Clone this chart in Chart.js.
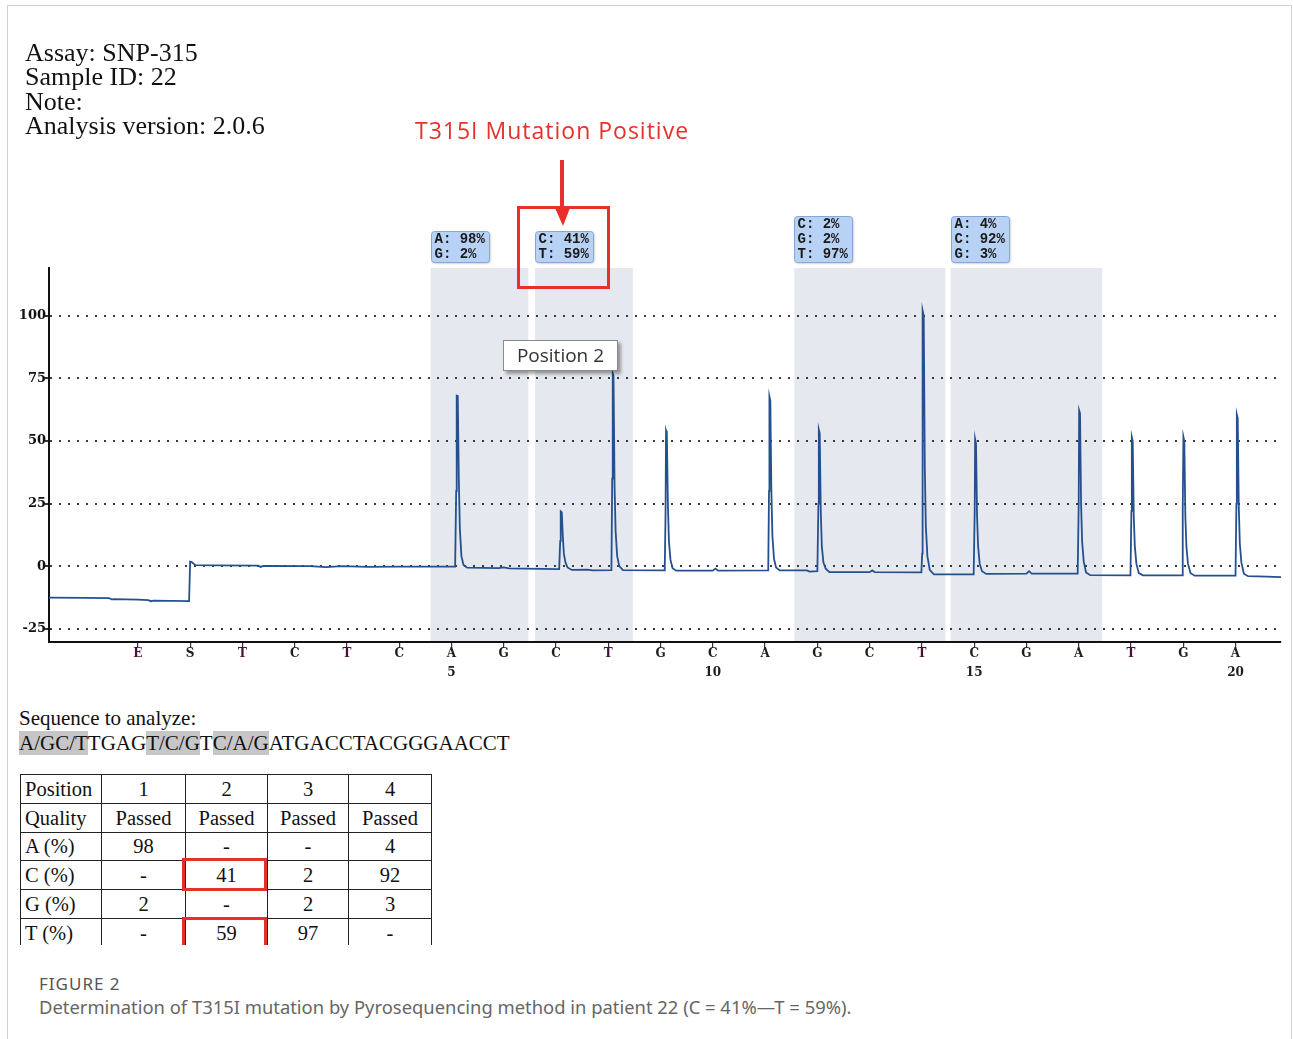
<!DOCTYPE html>
<html>
<head>
<meta charset="utf-8">
<script src="https://cdn.jsdelivr.net/npm/chart.js@4.4.1/dist/chart.umd.min.js"></script>
<style>
    body { margin: 0; width: 1293px; height: 1039px; background: #fff; position: relative; overflow: hidden; }
    #frame { position: absolute; left: 7px; top: 5px; width: 1283px; height: 1040px; border: 1px solid #cfcfcf; border-bottom: none; }
    #pyrogram { position: absolute; left: 0; top: 0; }
    .serif { font-family: 'Liberation Serif', 'Times New Roman', serif; color: #111; }
    #header { position: absolute; left: 25px; top: 41px; font-size: 26px; line-height: 24.4px; }
    #mutation { position: absolute; left: 415px; top: 114px; font: 23px 'Open Sans', sans-serif; letter-spacing: 1px; color: #e8302a; }
    #arrow { position: absolute; left: 540px; top: 150px; }
    #redbox { position: absolute; left: 517px; top: 206px; width: 87px; height: 77px; border: 3.5px solid #e8302a; }
    #poslabel { position: absolute; left: 503px; top: 340px; width: 113px; height: 29px; border: 1px solid #8a8a8a; background: #fff;
        box-shadow: 3px 3px 3px rgba(0,0,0,0.35); font: 19px 'Open Sans', sans-serif; color: #333; line-height: 29px; text-align: center; }
    #seq { position: absolute; left: 19px; top: 706px; font-size: 21px; line-height: 25px; }
    #seq .hl { background: #c6c6c6; }
    #tablewrap { position: absolute; left: 18px; top: 772px; width: 420px; height: 173px; overflow: hidden; }
    #results { position: absolute; left: 2px; top: 2px; border-collapse: collapse; table-layout: fixed; width: 411px; font-size: 20.5px; }
    #results td { border: 1.5px solid #222; height: 28.8px; padding: 0 4px; text-align: center; line-height: 26px; box-sizing: border-box; }
    #results td:first-child { text-align: left; }
    .redcell { position: absolute; border: 3.5px solid #e8302a; }
    #figlabel { position: absolute; left: 39px; top: 972px; font: 17px 'Noto Sans', sans-serif; letter-spacing: 1px; color: #555; }
    #figcaption { position: absolute; left: 39px; top: 994px; font: 18.4px 'Noto Sans', sans-serif; color: #666; }
</style>
</head>
<body>
<div id="frame"></div>
<canvas id="pyrogram" width="1293" height="700"></canvas>

<div id="header" class="serif">Assay: SNP-315<br>Sample ID: 22<br>Note:<br>Analysis version: 2.0.6</div>
<div id="mutation">T315I Mutation Positive</div>
<svg id="arrow" width="50" height="80">
    <line x1="22" y1="10" x2="22" y2="62" stroke="#e8302a" stroke-width="4"/>
    <polygon points="15,58 30,58 23,76" fill="#e8302a"/>
</svg>
<div id="redbox"></div>
<div id="poslabel">Position 2</div>

<div id="seq" class="serif">Sequence to analyze:<br><span class="hl">A/GC/T</span>TGAG<span class="hl">T/C/G</span>T<span class="hl">C/A/G</span>ATGACCTACGGGAACCT</div>

<div id="tablewrap" class="serif">
    <table id="results"><colgroup><col style="width:81px"><col style="width:84px"><col style="width:82px"><col style="width:81px"><col style="width:83px"></colgroup><tbody></tbody></table>
    <div class="redcell" style="left:164px; top:86px; width:79px; height:27px;"></div>
    <div class="redcell" style="left:164px; top:145px; width:79px; height:40px;"></div>
</div>

<div id="figlabel">FIGURE 2</div>
<div id="figcaption">Determination of T315I mutation by Pyrosequencing method in patient 22 (C = 41%—T = 59%).</div>

<script>
// dispensation order of the assay (E = enzyme, S = substrate)
const dispensations = ['E', 'S', 'T', 'C', 'T', 'C', 'A', 'G', 'C', 'T', 'G', 'C', 'A', 'G', 'C', 'T', 'C', 'G', 'A', 'T', 'G', 'A'];
const dispensationIndex = [-1, 0, 1, 2, 3, 4, 5, 6, 7, 8, 9, 10, 11, 12, 13, 14, 15, 16, 17, 18, 19, 20];
const numberedIndex = [5, 10, 15, 20];
const yTicks = [-25, 0, 25, 50, 75, 100];

// shaded variable positions (in dispensation units) and their allele readouts
const positionRegions = [[4.6, 6.47], [6.6, 8.47], [11.56, 14.45], [14.55, 17.45]];
const positionReadouts = [
    ['A: 98%', 'G: 2%'],
    ['C: 41%', 'T: 59%'],
    ['C: 2%', 'G: 2%', 'T: 97%'],
    ['A: 4%', 'C: 92%', 'G: 3%']
];

// pyrogram trace [dispensation, signal]
const tracePoints = [
    [-2.70, -12.6], [-2.0, -12.7], [-1.55, -12.8], [-1.50, -13.3], [-1.45, -13.2], [-1.0, -13.4], [-0.80, -13.6],
    [-0.75, -14.0], [-0.70, -13.8], [-0.02, -14.0], [0.00, 1.8], [0.03, 1.6], [0.10, 0.4], [0.5, 0.3], [1.3, 0.2],
    [1.35, -0.3], [1.4, 0.1], [2.3, 0.0], [2.6, -0.4], [2.9, 0.0], [3.4, -0.3], [4.0, -0.2], [5.07, -0.2],
    [5.09, 30], [5.10, 68.1], [5.12, 68.0], [5.14, 35], [5.16, 15], [5.19, 4], [5.23, 0.5], [5.30, -0.6],
    [5.9, -0.8], [6.0, -0.5], [6.1, -0.9], [7.05, -1.2],
    [7.06, -1.2], [7.08, 10], [7.09, 21.9], [7.11, 21.5], [7.13, 12], [7.15, 5], [7.18, 1.5], [7.22, -0.5], [7.30, -1.5],
    [7.6, -1.4], [7.7, -1.7], [8.05, -1.6],
    [8.06, -1.6], [8.075, 35], [8.085, 77.1], [8.10, 76], [8.12, 32], [8.14, 14], [8.17, 4], [8.21, 0], [8.28, -1.6],
    [9.07, -1.7],
    [9.08, -1.5], [9.095, 20], [9.105, 54.1], [9.12, 53], [9.14, 25], [9.16, 10], [9.19, 2.5], [9.23, -0.8], [9.30, -1.8],
    [10.0, -1.8], [10.05, -1.0], [10.1, -1.8], [11.05, -1.7],
    [11.06, -1.7], [11.075, 30], [11.083, 67.7], [11.10, 66], [11.12, 30], [11.14, 12], [11.17, 3], [11.21, -0.5], [11.28, -1.7],
    [11.8, -1.7], [11.85, -2.2], [12.0, -2.0],
    [12.005, -2.0], [12.02, 25], [12.028, 54.5], [12.045, 53], [12.065, 22], [12.085, 8], [12.115, 1.5], [12.16, -1.0], [12.23, -2.4],
    [13.0, -2.4], [13.05, -1.7], [13.1, -2.4], [13.99, -2.5],
    [13.995, -2.5], [14.005, 5], [14.01, 50], [14.017, 102.1], [14.035, 100], [14.055, 40], [14.075, 16], [14.105, 4], [14.15, -1.5],
    [14.23, -3.3], [14.5, -3.3], [14.99, -3.3],
    [14.995, -3.3], [15.01, 22], [15.018, 50.8], [15.035, 49], [15.055, 20], [15.075, 8], [15.105, 1], [15.15, -2], [15.23, -3.1],
    [16.0, -3.0], [16.05, -2.0], [16.1, -3.0], [16.98, -3.0],
    [16.985, -3.0], [17.0, 25], [17.008, 62.2], [17.025, 61], [17.045, 25], [17.065, 10], [17.095, 2], [17.14, -2.5], [17.22, -3.6],
    [17.99, -3.7],
    [17.995, -3.7], [18.008, 22], [18.016, 51.5], [18.033, 50], [18.053, 20], [18.073, 8], [18.103, 1], [18.15, -2.8], [18.23, -3.7],
    [18.98, -3.7],
    [18.985, -3.7], [18.995, 22], [19.003, 51.7], [19.02, 50], [19.04, 20], [19.06, 8], [19.09, 1], [19.14, -2.8], [19.22, -3.8],
    [20.0, -3.8],
    [20.002, -3.8], [20.017, 25], [20.025, 60.5], [20.042, 59], [20.062, 24], [20.082, 9], [20.112, 1.5], [20.16, -3.0], [20.24, -4.0],
    [20.6, -4.2], [20.87, -4.4]
];

// result table
const tablePositions = ['1', '2', '3', '4'];
const tableQuality = ['Passed', 'Passed', 'Passed', 'Passed'];
const pctA = ['98', '-', '-', '4'];
const pctC = ['-', '41', '2', '92'];
const pctG = ['2', '-', '2', '3'];
const pctT = ['-', '59', '97', '-'];

const tableRows = [
    ['Position', tablePositions], ['Quality', tableQuality],
    ['A (%)', pctA], ['C (%)', pctC], ['G (%)', pctG], ['T (%)', pctT]
];
document.querySelector('#results tbody').innerHTML = tableRows
    .map(([name, cells]) => `<tr><td>${name}</td>${cells.map(c => `<td>${c}</td>`).join('')}</tr>`)
    .join('');

const regionShading = {
    id: 'regionShading',
    beforeDraw(chart) {
        const { ctx, chartArea, scales: { x } } = chart;
        ctx.save();
        ctx.fillStyle = '#e5e8ee';
        positionRegions.forEach(([from, to]) => {
            const x1 = x.getPixelForValue(from);
            const x2 = x.getPixelForValue(to);
            ctx.fillRect(x1, chartArea.top, x2 - x1, chartArea.bottom - chartArea.top);
        });
        ctx.restore();
    }
};

const readoutBoxes = {
    id: 'readoutBoxes',
    afterDraw(chart) {
        const { ctx, chartArea, scales: { x } } = chart;
        ctx.save();
        positionReadouts.forEach((lines, i) => {
            const left = Math.round(x.getPixelForValue(positionRegions[i][0])) + 0.5;
            const h = lines.length * 15 + 1;
            const top = Math.round(chartArea.top - 6 - h) + 0.5;
            const w = 58;
            ctx.shadowColor = 'rgba(0,0,0,0.25)';
            ctx.shadowOffsetX = 1;
            ctx.shadowOffsetY = 1;
            ctx.shadowBlur = 2;
            ctx.beginPath();
            ctx.roundRect(left, top, w, h, 3);
            ctx.fillStyle = '#b8d2f6';
            ctx.fill();
            ctx.shadowColor = 'transparent';
            ctx.strokeStyle = '#86a6d6';
            ctx.lineWidth = 1;
            ctx.stroke();
            ctx.fillStyle = '#1a1a1a';
            ctx.font = 'bold 14px "Liberation Mono", monospace';
            ctx.textBaseline = 'middle';
            lines.forEach((t, k) => ctx.fillText(t, left + 3, top + 8 + k * 15));
        });
        ctx.restore();
    }
};

new Chart(document.getElementById('pyrogram'), {
    type: 'line',
    data: {
        datasets: [{
            data: tracePoints.map(([x, y]) => ({ x, y })),
            borderColor: '#25508f',
            borderWidth: 1.8,
            pointRadius: 0,
            tension: 0,
            fill: false
        }]
    },
    options: {
        responsive: false,
        animation: false,
        layout: { padding: { top: 268, right: 12, left: 0, bottom: 0 } },
        plugins: { legend: { display: false }, tooltip: { enabled: false } },
        scales: {
            x: {
                type: 'linear',
                min: -2.70,
                max: 20.87,
                afterBuildTicks: scale => { scale.ticks = dispensationIndex.map(v => ({ value: v })); },
                afterFit: scale => { scale.height = 58; },
                grid: { drawOnChartArea: false, drawTicks: true, tickLength: 6, color: '#333', lineWidth: 1.2 },
                border: { color: '#111', width: 2 },
                ticks: {
                    autoSkip: false,
                    maxRotation: 0,
                    padding: -4,
                    font: { family: 'DejaVu Serif', weight: 'bold', size: 12, lineHeight: '19px' },
                    color: ctx => ['T', 'E'].includes(dispensations[ctx.index]) ? '#4a1238' : '#1e1e1e',
                    callback: (value, i) => [dispensations[i], numberedIndex.includes(value) ? String(value) : '']
                }
            },
            y: {
                min: -30.3,
                max: 119.1,
                afterBuildTicks: scale => { scale.ticks = yTicks.map(v => ({ value: v })); },
                afterFit: scale => { scale.width = 49; },
                grid: { color: '#3a3a3a', lineWidth: 2, tickLength: 4, tickColor: '#333' },
                border: { color: '#111', width: 2, dash: [2, 7] },
                ticks: {
                    padding: -1,
                    color: '#111',
                    font: { family: 'DejaVu Serif', weight: 'bold', size: 13 }
                }
            }
        }
    },
    plugins: [regionShading, readoutBoxes]
});
</script>
</body>
</html>
